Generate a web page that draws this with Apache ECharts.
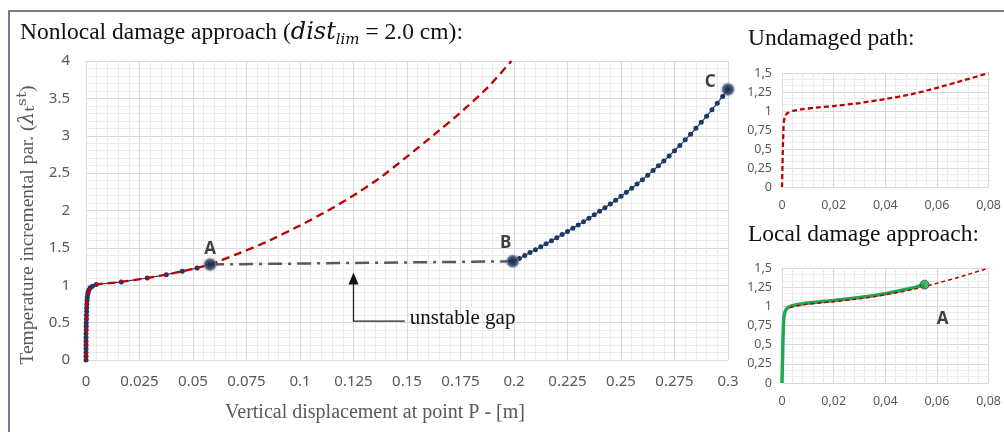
<!DOCTYPE html>
<html>
<head>
<meta charset="utf-8">
<script src="https://cdn.jsdelivr.net/npm/echarts@6/dist/echarts.min.js"></script>
<style>
  html, body { margin: 0; padding: 0; background: #fff; }
  #chart { width: 1004px; height: 432px; }
</style>
</head>
<body>
<div id="chart"></div>
<script>
// main chart: nonlocal path, 0 -> A
const nonlocalToA = [
  [0, 0], [0, 0.05], [0, 0.1], [0, 0.15], [0, 0.2], [0, 0.25], [0, 0.3], [0, 0.35],
  [0.0001, 0.4], [0.0001, 0.45], [0.0001, 0.5], [0.0002, 0.55], [0.0002, 0.6],
  [0.0003, 0.65], [0.0003, 0.7], [0.0004, 0.75], [0.0005, 0.8], [0.0006, 0.84],
  [0.0008, 0.88], [0.001, 0.91], [0.0014, 0.94], [0.002, 0.965], [0.003, 0.985],
  [0.0048, 1.01], [0.0165, 1.044], [0.0286, 1.097], [0.0375, 1.142], [0.045, 1.187],
  [0.0519, 1.231], [0.058, 1.278]
];
// main chart: nonlocal path, B -> C
const nonlocalBtoC = [
  [0.1994, 1.32], [0.2025, 1.359], [0.205, 1.398], [0.2075, 1.437], [0.21, 1.476],
  [0.2125, 1.516], [0.215, 1.555], [0.2175, 1.596], [0.22, 1.637], [0.2225, 1.678],
  [0.225, 1.72], [0.2275, 1.763], [0.23, 1.806], [0.2325, 1.85], [0.235, 1.896],
  [0.2375, 1.942], [0.24, 1.989], [0.2425, 2.037], [0.245, 2.087], [0.2475, 2.138],
  [0.25, 2.19], [0.2525, 2.243], [0.255, 2.298], [0.2575, 2.355], [0.26, 2.413],
  [0.2625, 2.473], [0.265, 2.535], [0.2675, 2.598], [0.27, 2.663], [0.2725, 2.73],
  [0.275, 2.8], [0.2775, 2.871], [0.28, 2.945], [0.2825, 3.021], [0.285, 3.099],
  [0.2875, 3.179], [0.29, 3.262], [0.2925, 3.348], [0.295, 3.436], [0.2975, 3.526],
  [0.3, 3.62]
];
// main chart: undamaged path (red dashed)
const undamagedMain = [
  [0, 0], [0.0005, 0.8], [0.001, 0.91], [0.002, 0.965], [0.0048, 1.01],
  [0.0165, 1.044], [0.0286, 1.097], [0.0375, 1.142], [0.045, 1.187], [0.0519, 1.231],
  [0.058, 1.278], [0.07, 1.41], [0.0844, 1.58], [0.1, 1.8], [0.1125, 1.99],
  [0.125, 2.2], [0.1375, 2.44], [0.15, 2.72], [0.1625, 3.01], [0.175, 3.31],
  [0.1875, 3.64], [0.1988, 4.0]
];
// unstable gap A -> B
const gapLine = [[0.058, 1.278], [0.1994, 1.32]];
const keyNames = ["A", "B", "C"];
const keyX = [0.058, 0.1994, 0.3];
const keyY = [1.278, 1.32, 3.62];

// small charts
const undamagedSmall = [
  [0, 0], [0.0002, 0.3], [0.0004, 0.6], [0.0007, 0.85], [0.0012, 0.93], [0.002, 0.97],
  [0.004, 1.0], [0.008, 1.025], [0.015, 1.05], [0.02, 1.065], [0.03, 1.105],
  [0.04, 1.157], [0.05, 1.22], [0.06, 1.305], [0.07, 1.4], [0.08, 1.5]
];
const localGreen = [
  [0, 0], [0.0002, 0.3], [0.0004, 0.6], [0.0007, 0.85], [0.0012, 0.93], [0.002, 0.975],
  [0.004, 1.01], [0.008, 1.035], [0.015, 1.06], [0.02, 1.075], [0.03, 1.115],
  [0.04, 1.165], [0.05, 1.235], [0.0552, 1.283]
];
const localRed = [
  [0.003, 0.985], [0.008, 1.02], [0.015, 1.045], [0.02, 1.06], [0.03, 1.1],
  [0.04, 1.15], [0.05, 1.215], [0.06, 1.3], [0.07, 1.395], [0.08, 1.5]
];
const localA = [0.0552, 1.283];

const grey = "#595959";
const navy = "#1f3864";
const red = "#c00000";
const serif = "'Liberation Serif', 'DejaVu Serif', serif";
const mathFont = "'DejaVu Serif', serif";
const sans = "'Noto Sans', 'Open Sans', sans-serif";

const comma = v => String(v).replace(".", ",");

const mainAxisCommon = {
  axisLine: { show: false },
  axisTick: { show: false },
  splitLine: { show: true, lineStyle: { color: "#d9d9d9", width: 1 } },
  minorTick: { show: false, splitNumber: 5 },
  minorSplitLine: { show: true, lineStyle: { color: "#ebebeb", width: 1 } }
};

const smallX = (grid) => Object.assign({}, mainAxisCommon, {
  type: "value", gridIndex: grid, min: 0, max: 0.08, interval: 0.02,
  minorTick: { show: false, splitNumber: 5 },
  axisLabel: { formatter: comma, color: grey, fontSize: 12.5, fontFamily: sans, margin: 12 }
});
const smallY = (grid) => Object.assign({}, mainAxisCommon, {
  type: "value", gridIndex: grid, min: 0, max: 1.5, interval: 0.25,
  minorTick: { show: false, splitNumber: 3 },
  axisLabel: { formatter: comma, color: grey, fontSize: 12.5, fontFamily: sans, margin: 10 }
});

const chart = echarts.init(document.getElementById("chart"));
chart.setOption({
  animation: false,
  backgroundColor: "#fff",
  grid: [
    { left: 86, right: 276, top: 61, bottom: 72 },
    { left: 782, right: 9, top: 73, height: 114 },
    { left: 782, right: 9, top: 268, height: 115 }
  ],
  xAxis: [
    Object.assign({}, mainAxisCommon, {
      type: "value", gridIndex: 0, min: 0, max: 0.3, interval: 0.025,
      axisLabel: { color: grey, fontSize: 15, fontFamily: sans, margin: 14 }
    }),
    smallX(1),
    smallX(2)
  ],
  yAxis: [
    Object.assign({}, mainAxisCommon, {
      type: "value", gridIndex: 0, min: 0, max: 4, interval: 0.5,
      minorTick: { show: false, splitNumber: 5 },
      axisLabel: { color: grey, fontSize: 15, fontFamily: sans, margin: 16 }
    }),
    smallY(1),
    smallY(2)
  ],
  series: [
    {
      type: "line", xAxisIndex: 0, yAxisIndex: 0, data: gapLine,
      symbol: "none", lineStyle: { color: "#595959", width: 2.5, type: [14, 6, 3, 6] }, z: 2
    },
    {
      type: "line", xAxisIndex: 0, yAxisIndex: 0, data: nonlocalToA,
      symbol: "circle", symbolSize: 5, itemStyle: { color: navy },
      lineStyle: { color: navy, width: 1.2 }, z: 3
    },
    {
      type: "line", xAxisIndex: 0, yAxisIndex: 0, data: nonlocalBtoC,
      symbol: "circle", symbolSize: 5, itemStyle: { color: navy },
      lineStyle: { color: navy, width: 1.2 }, z: 3
    },
    {
      type: "line", xAxisIndex: 0, yAxisIndex: 0, data: undamagedMain, smooth: 0.2,
      symbol: "none", lineStyle: { color: red, width: 2.3, type: [8, 5] }, z: 4
    },
    {
      type: "scatter", xAxisIndex: 0, yAxisIndex: 0, symbolSize: 11, z: 5,
      itemStyle: { color: navy, borderColor: "#6f7f93", borderWidth: 1.5,
        shadowBlur: 3, shadowColor: "rgba(0,0,0,0.35)" },
      label: { show: true, formatter: "{b}", color: "#111", fontWeight: "bold",
        fontSize: 17, fontFamily: sans },
      data: keyNames.map((n, i) => ({
        name: n, value: [keyX[i], keyY[i]],
        label: i === 0 ? { position: "top", offset: [0, 4] }
          : i === 1 ? { position: "top", offset: [-7, 2] }
          : { position: "left", offset: [-1, -7] }
      }))
    },
    {
      type: "line", xAxisIndex: 1, yAxisIndex: 1, data: undamagedSmall, smooth: 0.2,
      symbol: "none", lineStyle: { color: red, width: 2.3, type: [5, 3] }
    },
    {
      type: "line", xAxisIndex: 2, yAxisIndex: 2, data: localGreen, smooth: 0.2,
      symbol: "none", lineStyle: { color: "#1fa84f", width: 3.5 }, z: 3
    },
    {
      type: "line", xAxisIndex: 2, yAxisIndex: 2, data: localRed, smooth: 0.2,
      symbol: "none", lineStyle: { color: red, width: 1.5, type: [4, 3] }, z: 4
    },
    {
      type: "scatter", xAxisIndex: 2, yAxisIndex: 2, symbolSize: 9, z: 5,
      itemStyle: { color: "#1fa84f", borderColor: "#2f4f3a", borderWidth: 1 },
      label: { show: true, formatter: "A", position: "inside", offset: [18, 35],
        color: "#111", fontWeight: "bold", fontSize: 17, fontFamily: sans },
      data: [localA]
    }
  ]
});

// annotation and titles, placed from the axes
const px = (v) => chart.convertToPixel({ gridIndex: 0 }, v);
const tip = px([0.125, 1.17]);
const elbow = px([0.125, 0.52]);
const lineEnd = px([0.149, 0.52]);

chart.setOption({
  graphic: [
    { type: "rect", silent: true, shape: { x: 9, y: 11, width: 1010, height: 440 },
      style: { fill: "none", stroke: "#44546a", lineWidth: 1.5 } },
    { type: "text", x: 20, y: 33, style: {
        text: "{t|Nonlocal damage approach (}{i|dist}{s|lim}{t| = 2.0 cm):}",
        verticalAlign: "middle",
        rich: {
          t: { fontFamily: serif, fontSize: 23.5, fill: "#111", lineHeight: 30, verticalAlign: "middle" },
          i: { fontFamily: mathFont, fontStyle: "italic", fontSize: 24, fill: "#111", lineHeight: 30, verticalAlign: "middle" },
          s: { fontFamily: mathFont, fontStyle: "italic", fontSize: 15, fill: "#111", lineHeight: 15, verticalAlign: "bottom" }
        }
      } },
    { type: "text", x: 748, y: 39, style: { text: "Undamaged path:",
        fontFamily: serif, fontSize: 23.5, fill: "#111", verticalAlign: "middle" } },
    { type: "text", x: 748, y: 235, style: { text: "Local damage approach:",
        fontFamily: serif, fontSize: 23.5, fill: "#111", verticalAlign: "middle" } },
    { type: "text", x: 28, y: 225, rotation: Math.PI / 2, style: {
        text: "{n|Temperature incremental par. (}{l|λ}{u|ₜˢᵗ}{n|)}",
        align: "center", verticalAlign: "middle",
        rich: {
          n: { fontFamily: serif, fontSize: 19.5, fill: grey, lineHeight: 26, verticalAlign: "middle" },
          l: { fontFamily: mathFont, fontStyle: "italic", fontSize: 20, fill: grey, lineHeight: 26, verticalAlign: "middle" },
          u: { fontFamily: mathFont, fontSize: 24, fill: grey, lineHeight: 26, verticalAlign: "middle" }
        } } },
    { type: "text", x: 375, y: 413, style: {
        text: "Vertical displacement at point P - [m]", fontFamily: serif, fontSize: 20,
        fill: grey, align: "center", verticalAlign: "middle" } },
    { type: "polyline", silent: true, z: 10,
      shape: { points: [[tip[0], tip[1] + 8], elbow, lineEnd] },
      style: { stroke: "#222", lineWidth: 1.3, fill: "none" } },
    { type: "polygon", silent: true, z: 10,
      shape: { points: [tip, [tip[0] - 5, tip[1] + 12], [tip[0] + 5, tip[1] + 12]] },
      style: { fill: "#111" } },
    { type: "text", x: lineEnd[0] + 5, y: lineEnd[1] - 3, z: 10, style: {
        text: "unstable gap", fontFamily: serif, fontSize: 21, fill: "#111",
        align: "left", verticalAlign: "middle" } }
  ]
});
</script>
</body>
</html>
